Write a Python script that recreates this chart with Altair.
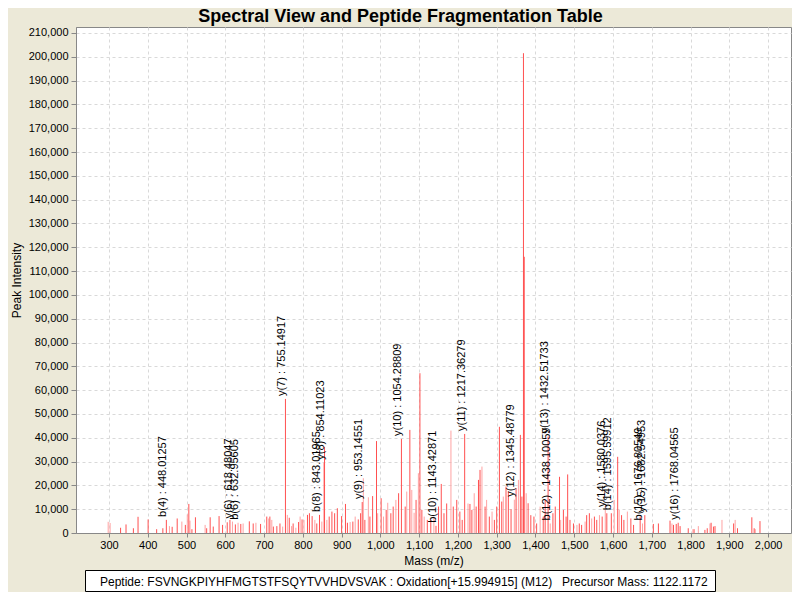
import altair as alt
import pandas as pd

# ---- data ----
peak_mass = [298, 303, 330, 344, 363, 375, 401, 423, 439, 448.01, 456, 463, 476, 488, 497, 502, 506, 509, 514, 523,
             548, 552, 561, 569, 584, 593, 605, 612, 618.48, 626, 632.96, 640, 646, 662, 672, 679, 691, 707, 712, 715,
             720, 724, 733, 741, 748, 755.15, 760, 765, 771, 775, 782, 789, 793, 798, 803, 812, 817, 824, 831, 836,
             843.02, 849, 854.11, 856, 862, 868, 875, 882, 889, 900, 910, 915, 922, 929, 935, 943, 949, 953.15, 956, 960,
             969, 973, 980, 990, 993, 1002, 1008, 1015, 1019, 1027, 1033, 1040, 1047, 1054.29, 1064, 1068, 1076, 1081, 1087, 1092,
             1098, 1102, 1107, 1113, 1121, 1130, 1138, 1143.43, 1150, 1157, 1164, 1171, 1182, 1188, 1197, 1205, 1211, 1217.36, 1226, 1231,
             1236, 1242, 1247, 1253, 1257, 1262, 1270, 1274, 1281, 1288, 1294, 1300, 1307, 1313, 1317, 1324, 1330, 1337, 1345.49, 1350,
             1356, 1361, 1365, 1369, 1371, 1376, 1381, 1388, 1396, 1403, 1412, 1420, 1425, 1432.52, 1438.10, 1445, 1451, 1462, 1465, 1472,
             1479, 1483, 1489, 1498, 1507, 1513, 1519, 1528, 1532, 1539, 1545, 1552, 1558, 1565, 1572, 1580.04, 1584, 1595.60, 1603, 1612,
             1616, 1622, 1628, 1637, 1646, 1653, 1670, 1676, 1682, 1704, 1717, 1747, 1752, 1756, 1763, 1768.05, 1773, 1794, 1806, 1809,
             1820, 1837, 1843, 1850, 1853, 1859, 1863, 1881, 1911, 1915, 1921, 1958, 1964, 1967, 1979]
peak_intensity = [4700, 4200, 2200, 3600, 2000, 6800, 5700, 1600, 2000, 5500, 2900, 2600, 6100, 4800, 3400, 7800, 12200, 5200, 1600, 6600,
                  3400, 2000, 6600, 2700, 7100, 3400, 4500, 5500, 4800, 3600, 4300, 3800, 4000, 4900, 4000, 4300, 3800, 6900, 6100, 6900,
                  5500, 2700, 2900, 4000, 2700, 56300, 7600, 6400, 2900, 4000, 2200, 4600, 6900, 5700, 5500, 7600, 8300, 7100, 5500, 4000,
                  7600, 4800, 29500, 36200, 5500, 6900, 9000, 8300, 10400, 7100, 12200, 4300, 4600, 4800, 6900, 5700, 8300, 13000, 23000, 5500,
                  15000, 6900, 15500, 38600, 8300, 14600, 6900, 9700, 12700, 8300, 11100, 13900, 16700, 39500, 11100, 17400, 43300, 18100, 8500, 13900,
                  25100, 67100, 9700, 6900, 5500, 5500, 6900, 3000, 11100, 20600, 8300, 12400, 43000, 11100, 13900, 9000, 5500, 41600, 12400, 12200,
                  9700, 16700, 11100, 22300, 26500, 27900, 11100, 13900, 6900, 9000, 5500, 11100, 44600, 13200, 15300, 19500, 17400, 10000, 14000, 18800,
                  22300, 41200, 15300, 201500, 116000, 16700, 12500, 7500, 6900, 4000, 11100, 6900, 13900, 40500, 4000, 8300, 11100, 23600, 5500, 9700,
                  6900, 24600, 5500, 4000, 3400, 4000, 3400, 4800, 7500, 8300, 6100, 6900, 5500, 7500, 6900, 9700, 8300, 8300, 13900, 32000,
                  9700, 7500, 5500, 9000, 6100, 3400, 6900, 4000, 7500, 3800, 4000, 5200, 4000, 3400, 3800, 4300, 2900, 2000, 1600, 1600,
                  2900, 1300, 2000, 4000, 4300, 2700, 2900, 5500, 4000, 5500, 2000, 6600, 2000, 1600, 5000]
peak_shade = list("llddddddddlddldldldd"
                  "ldddddddldldlddlddld"
                  "ldddldldldldldldddld"
                  "dlldldddddddldldddld"
                  "ldddldldlddldddldlld"
                  "lddlddldddddldddddld"
                  "dldddldldlddddldddld"
                  "lddddlddddldddldddld"
                  "ddddlddlddlddldlddld"
                  "lddldddlddddldddddld"
                  "lddldddldldddldlddl")

ann_label = ["b(4) : 448.01257", "y(6) : 618.48047", "b(6) : 632.95605", "y(7) : 755.14917", "b(8) : 843.01965",
             "y(8) : 854.11023", "y(9) : 953.14551", "y(10) : 1054.28809", "b(10) : 1143.42871", "y(11) : 1217.36279",
             "y(12) : 1345.48779", "y(13) : 1432.51733", "b(12) : 1438.10059", "y(14) : 1580.0376", "b(14) : 1595.59912",
             "b(15) : 1676.80549", "y(15) : 1682.54953", "y(16) : 1768.04565"]
ann_mass = [448.01, 618.48, 632.96, 755.15, 843.02, 854.11, 953.15, 1054.29, 1143.43, 1217.36,
            1345.49, 1432.52, 1438.10, 1580.04, 1595.60, 1676, 1682, 1768.05]
ann_intensity = [5500, 4800, 4300, 56300, 7600, 29500, 13000, 39500, 3000, 41600,
                 14000, 40500, 4000, 9700, 8300, 4000, 7500, 4300]

x_ticks = [300, 400, 500, 600, 700, 800, 900, 1000, 1100, 1200, 1300, 1400, 1500, 1600, 1700, 1800, 1900, 2000]
y_ticks = [0, 10000, 20000, 30000, 40000, 50000, 60000, 70000, 80000, 90000, 100000, 110000, 120000, 130000,
           140000, 150000, 160000, 170000, 180000, 190000, 200000, 210000]

title_text = "Spectral View and Peptide Fragmentation Table"
peptide_text = "Peptide: FSVNGKPIYHFMGTSTFSQYTVVHDVSVAK : Oxidation[+15.994915] (M12)"
precursor_text = "Precursor Mass: 1122.1172"

FONT = "Liberation Sans"

peaks = pd.DataFrame({"mass": peak_mass, "intensity": peak_intensity, "shade": peak_shade[:len(peak_mass)]})
peaks["order"] = (peaks["shade"] == "d").astype(int)
peaks = peaks.sort_values("order")
ann = pd.DataFrame({"label": ann_label, "mass": ann_mass, "intensity": ann_intensity})

xscale = alt.Scale(domain=[215, 2059], nice=False, zero=False)
yscale = alt.Scale(domain=[0, 212500], nice=False)

xaxis = alt.Axis(title="Mass (m/z)", values=x_ticks, format=",d", tickSize=4, labelPadding=2,
                 titlePadding=5, grid=True, labelOverlap=False)
yaxis = alt.Axis(title="Peak Intensity", values=y_ticks, format=",d", tickSize=5, labelPadding=3,
                 titlePadding=5, grid=True, labelOverlap=False)

X = alt.X("mass:Q", scale=xscale, axis=xaxis)
Y = alt.Y("intensity:Q", scale=yscale, axis=yaxis)

rules = alt.Chart(peaks).mark_rule(strokeWidth=1).encode(
    x=X,
    y=Y,
    y2=alt.datum(0),
    color=alt.Color("shade:N", scale=alt.Scale(domain=["d", "l"], range=["#ff5050", "#ffa2a2"]), legend=None),
    order=alt.Order("order:Q"),
)

labels = alt.Chart(ann).mark_text(angle=270, align="left", baseline="alphabetic", dx=3,
                                  fontSize=11, font=FONT, color="black").encode(
    x=X, y=Y, text="label:N"
)

# positions below are relative to the plot area's top-left corner
box_df = pd.DataFrame({"a": [peptide_text], "b": [precursor_text]})
box = alt.Chart(box_df).mark_rect(fill="white", stroke="black", strokeWidth=1).encode(
    x=alt.value(9.5), x2=alt.value(639.5), y=alt.value(543.5), y2=alt.value(564.5)
)
t1 = alt.Chart(box_df).mark_text(align="left", baseline="middle", fontSize=12, font=FONT, color="black").encode(
    x=alt.value(24), y=alt.value(554.5), text="a:N"
)
t2 = alt.Chart(box_df).mark_text(align="left", baseline="middle", fontSize=12, font=FONT, color="black").encode(
    x=alt.value(486), y=alt.value(554.5), text="b:N"
)

chart = alt.layer(rules, labels, box, t1, t2).properties(
    width=715, height=506,
    title=alt.TitleParams(title_text, fontSize=18, font=FONT, fontWeight="bold", anchor="middle",
                          dx=-33, offset=1, frame="group", color="black"),
    autosize=alt.AutoSizeParams(type="none"),
    padding={"left": 68, "top": 19, "right": 1, "bottom": 59},
).configure(background="#ece9d8").configure_view(
    fill="white", stroke="#888888", strokeWidth=1
).configure_axis(
    labelFont=FONT, labelFontSize=11, labelColor="black", titleFont=FONT, titleFontSize=12,
    titleColor="black", titleFontWeight="normal", domainColor="#888888", tickColor="#888888",
    gridColor="#d9d9d9", gridDash=[3, 3], gridWidth=1
)

chart.save("out.html", embed_options={"renderer": "svg", "actions": False})
